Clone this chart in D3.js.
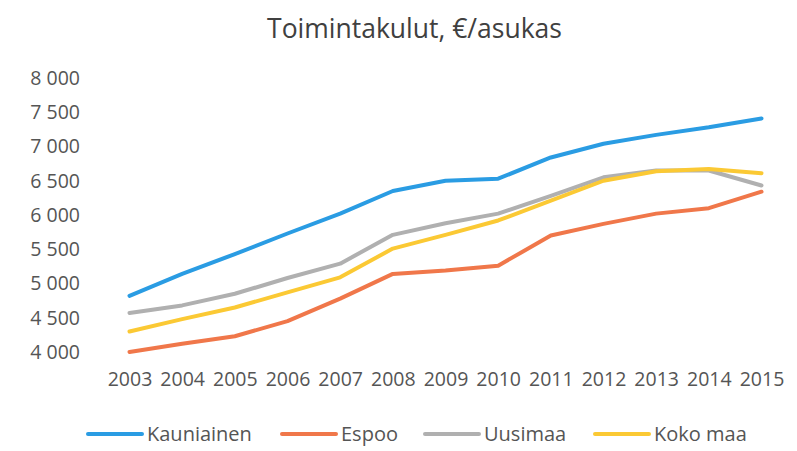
<!DOCTYPE html>
<meta charset="utf-8">
<style>
body { margin: 0; background: #fff; }
text { font-family: "Open Sans", sans-serif; fill: #555; }
.line { fill: none; stroke-width: 4px; stroke-linejoin: round; stroke-linecap: round; }
</style>
<svg width="797" height="451"></svg>
<script src="https://cdnjs.cloudflare.com/ajax/libs/d3/7.8.5/d3.min.js"></script>
<script>

var years = [2003, 2004, 2005, 2006, 2007, 2008, 2009, 2010, 2011, 2012, 2013, 2014, 2015];
var kauniainen = [4820, 5140, 5430, 5730, 6020, 6350, 6500, 6530, 6840, 7040, 7170, 7280, 7410];
var espoo      = [4000, 4120, 4230, 4450, 4780, 5140, 5190, 5260, 5700, 5870, 6020, 6100, 6340];
var uusimaa    = [4570, 4680, 4850, 5080, 5290, 5710, 5880, 6020, 6280, 6550, 6650, 6650, 6430];
var kokoMaa    = [4300, 4480, 4650, 4870, 5090, 5510, 5710, 5920, 6210, 6500, 6640, 6670, 6610];
var yTicks = [4000, 4500, 5000, 5500, 6000, 6500, 7000, 7500, 8000];

var series = [
  { name: "Kauniainen", values: kauniainen, color: "#2a9ce3" },
  { name: "Espoo", values: espoo, color: "#f0774a" },
  { name: "Uusimaa", values: uusimaa, color: "#b0b0b0" },
  { name: "Koko maa", values: kokoMaa, color: "#fbc934" }
];

var svg = d3.select("svg");

var x = d3.scaleLinear().domain([2003, 2015]).range([129.5, 761.5]);
var y = d3.scaleLinear().domain([4000, 8000]).range([352, 78]);

var fi = d3.formatLocale({ decimal: ",", thousands: "\u00a0", grouping: [3], currency: ["", " €"] });

svg.append("text")
    .attr("x", 414.5)
    .attr("y", 38)
    .attr("text-anchor", "middle")
    .style("font-size", "26.5px")
    .style("fill", "#404040")
    .text("Toimintakulut, €/asukas");

var yAxis = svg.append("g")
    .attr("transform", "translate(80,0)")
    .call(d3.axisLeft(y).tickValues(yTicks).tickSize(0).tickPadding(0).tickFormat(fi.format(",")));
yAxis.select(".domain").remove();
yAxis.selectAll("text").style("font-size", "19.5px").attr("font-family", null);

var xAxis = svg.append("g")
    .attr("transform", "translate(0,372)")
    .call(d3.axisBottom(x).tickValues(years).tickSize(0).tickPadding(0).tickFormat(d3.format("d")));
xAxis.select(".domain").remove();
xAxis.selectAll("text").style("font-size", "19.5px").attr("font-family", null);

var line = d3.line()
    .x(function(d, i) { return x(years[i]); })
    .y(function(d) { return y(d); });

svg.selectAll(".line")
    .data(series)
  .enter().append("path")
    .attr("class", "line")
    .attr("stroke", function(d) { return d.color; })
    .attr("d", function(d) { return line(d.values); });

// legend
var legendX = [88, 282, 425, 595];
var legend = svg.selectAll(".legend")
    .data(series)
  .enter().append("g")
    .attr("class", "legend")
    .attr("transform", function(d, i) { return "translate(" + legendX[i] + ",434)"; });

legend.append("line")
    .attr("x1", 0).attr("x2", 54)
    .attr("stroke", function(d) { return d.color; })
    .attr("stroke-width", 4)
    .attr("stroke-linecap", "round");

legend.append("text")
    .attr("x", 59)
    .attr("dy", "0.35em")
    .style("font-size", "20px")
    .text(function(d) { return d.name; });

</script>
